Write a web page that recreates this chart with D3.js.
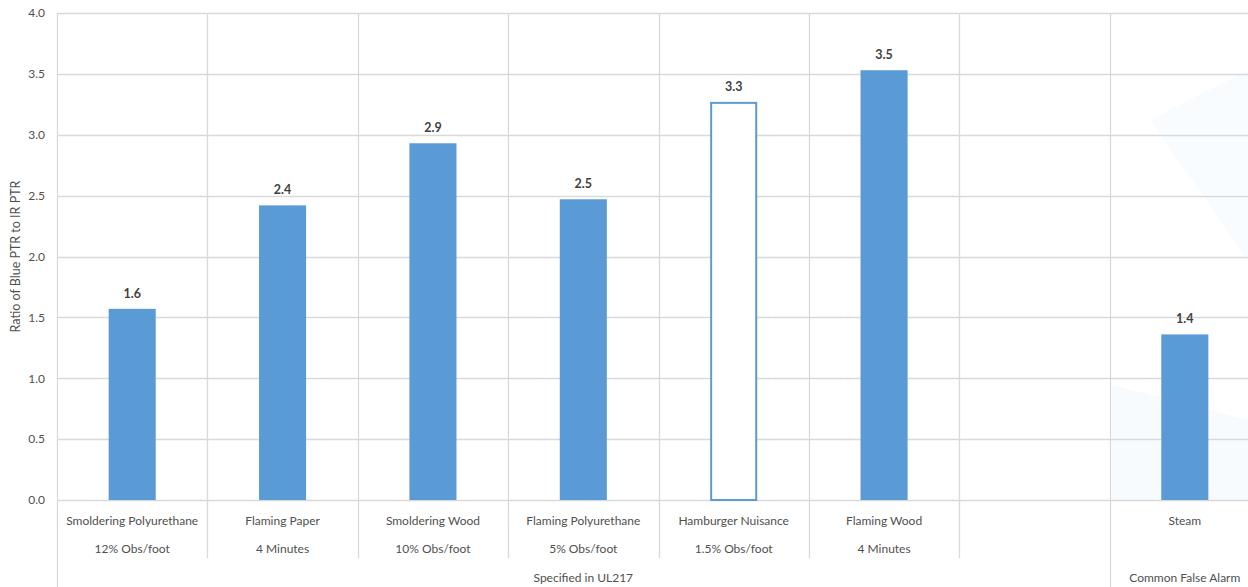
<!DOCTYPE html>
<html>
<head>
<meta charset="utf-8">
<script src="https://cdn.jsdelivr.net/npm/d3@7"></script>
<style>
  html, body { margin: 0; padding: 0; background: #fff; overflow: hidden; }
  svg { display: block; }
  text { font-family: Lato, "Open Sans", "Liberation Sans", sans-serif; }
</style>
</head>
<body>
<svg id="chart" width="1248" height="587"></svg>
<script>
// ---- data ----
const categories = ["Smoldering Polyurethane", "Flaming Paper", "Smoldering Wood", "Flaming Polyurethane", "Hamburger Nuisance", "Flaming Wood", "", "Steam"];
const subLabels  = ["12% Obs/foot", "4 Minutes", "10% Obs/foot", "5% Obs/foot", "1.5% Obs/foot", "4 Minutes", "", ""];
const values     = [1.57, 2.42, 2.93, 2.47, 3.27, 3.53, null, 1.36];
const hollow     = [false, false, false, false, true, false, false, false];
const groups     = [{name: "Specified in UL217", from: 0, to: 6}, {name: "Common False Alarm", from: 7, to: 7}];
const yTicks     = [0, 0.5, 1.0, 1.5, 2.0, 2.5, 3.0, 3.5, 4.0];
const yTitle     = "Ratio of Blue PTR to IR PTR";

// ---- layout ----
const svg = d3.select("#chart");
const plotLeft = 57, plotRight = 1260, plotTop = 13, plotBase = 500;
const gridColor = "#d9d9d9";
const barColor = "#5b9bd5";
const textColor = "#505050";

const x = d3.scaleBand().domain(d3.range(categories.length)).range([plotLeft, plotRight]).padding(0);
const y = d3.scaleLinear().domain([0, 4]).range([plotBase, plotTop]);
const bw = x.bandwidth();
const barW = bw * 0.313;

// faint watermark shapes on the right
svg.append("polygon")
  .attr("points", "1150,120 1248,70 1248,260")
  .attr("fill", "#eef5fb").attr("opacity", 0.35);
svg.append("polygon")
  .attr("points", "1112,385 1248,420 1248,500 1112,500")
  .attr("fill", "#eef5fb").attr("opacity", 0.4);

// horizontal gridlines
svg.append("g").selectAll("line").data(yTicks).join("line")
  .attr("x1", plotLeft).attr("x2", plotRight)
  .attr("y1", d => Math.round(y(d)) + 0.5).attr("y2", d => Math.round(y(d)) + 0.5)
  .attr("stroke", gridColor).attr("stroke-width", 1.3);

// vertical category separators
const groupStarts = new Set(groups.map(g => g.from));
const seps = d3.range(categories.length);
svg.append("g").selectAll("line").data(seps).join("line")
  .attr("x1", i => Math.round(x(i)) + 0.5).attr("x2", i => Math.round(x(i)) + 0.5)
  .attr("y1", plotTop)
  .attr("y2", i => groupStarts.has(i) ? 587 : 558)
  .attr("stroke", gridColor).attr("stroke-width", 1.3);

// y axis tick labels
const yAxis = d3.axisLeft(y).tickValues(yTicks).tickFormat(d3.format(".1f")).tickSize(0).tickPadding(12);
const ya = svg.append("g").attr("transform", `translate(${plotLeft},0)`).call(yAxis);
ya.select(".domain").remove();
ya.selectAll("text").attr("fill", textColor).style("font-size", "12px")
  .style("font-family", "Lato, 'Open Sans', sans-serif");

// y axis title
svg.append("text")
  .attr("transform", `translate(20,${(plotTop + plotBase) / 2}) rotate(-90)`)
  .attr("text-anchor", "middle")
  .attr("fill", textColor).style("font-size", "12.5px")
  .text(yTitle);

// bars
const barData = categories.map((c, i) => ({i, v: values[i], hollow: hollow[i]})).filter(d => d.v != null);
svg.append("g").selectAll("rect").data(barData).join("rect")
  .attr("x", d => x(d.i) + (bw - barW) / 2 + (d.hollow ? 1 : 0))
  .attr("y", d => y(d.v) + (d.hollow ? 1 : 0))
  .attr("width", d => barW - (d.hollow ? 2 : 0))
  .attr("height", d => plotBase - y(d.v) - (d.hollow ? 1 : 0))
  .attr("fill", d => d.hollow ? "#fff" : barColor)
  .attr("stroke", d => d.hollow ? barColor : "none")
  .attr("stroke-width", 2);

// value labels
svg.append("g").selectAll("text").data(barData).join("text")
  .attr("x", d => x(d.i) + bw / 2)
  .attr("y", d => y(d.v) - 11)
  .attr("text-anchor", "middle")
  .attr("fill", "#404040").style("font-size", "12.5px").style("font-weight", "bold")
  .text(d => d3.format(".1f")(d.v));

// category labels
svg.append("g").selectAll("text").data(categories).join("text")
  .attr("x", (d, i) => x(i) + bw / 2).attr("y", 525)
  .attr("text-anchor", "middle").attr("fill", textColor).style("font-size", "12px")
  .text(d => d);
svg.append("g").selectAll("text").data(subLabels).join("text")
  .attr("x", (d, i) => x(i) + bw / 2).attr("y", 553)
  .attr("text-anchor", "middle").attr("fill", textColor).style("font-size", "12px")
  .text(d => d);

// group labels
svg.append("g").selectAll("text").data(groups).join("text")
  .attr("x", g => (x(g.from) + x(g.to) + bw) / 2)
  .attr("y", 582)
  .attr("text-anchor", "middle").attr("fill", textColor).style("font-size", "12px")
  .text(g => g.name);
</script>
</body>
</html>
